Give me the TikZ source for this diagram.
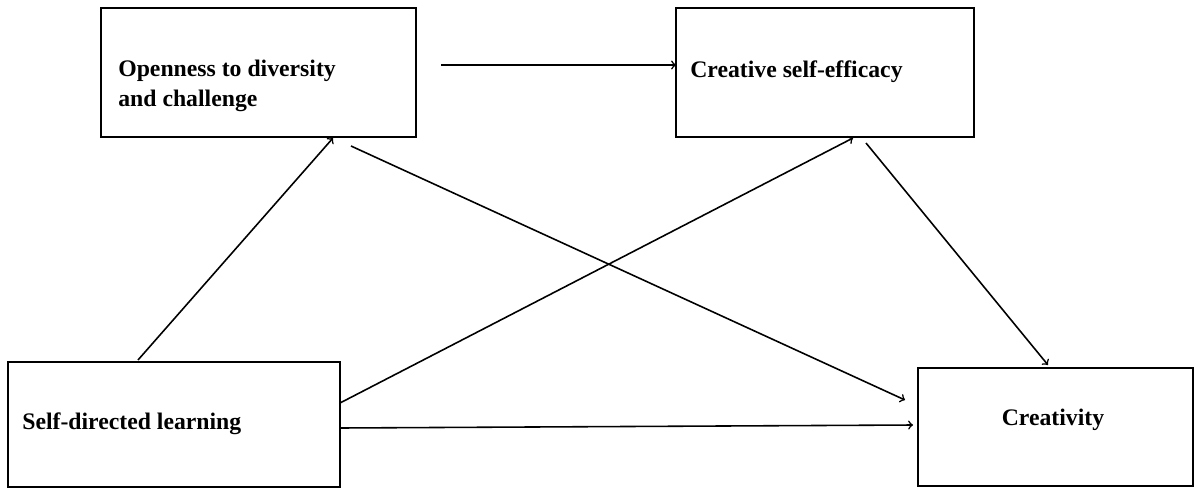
\documentclass[tikz,border=0pt]{standalone}
\usepackage{fontspec}
\setmainfont{Liberation Serif}
\begin{document}
\begin{tikzpicture}[x=0.02cm,y=-0.02cm]
	\tikzstyle{box}=[draw=black,line width=1.2pt]
	\tikzstyle{label}=[font=\fontsize{13.5}{17}\selectfont\bfseries,align=left,anchor=west,inner sep=0pt]
	\tikzstyle{link}=[->,line width=0.9pt,>=to]
	\useasboundingbox (0,0) rectangle (1200,494);
	\draw[box] (101,8) rectangle (416,137);
	\draw[box] (676,8) rectangle (974,137);
	\draw[box] (8,362) rectangle (340,487);
	\draw[box] (918,368) rectangle (1193,486);
	\node[label](open) at (118,86) {Openness to diversity\\and challenge};
	\node[label](eff) at (690,72) {Creative self-efficacy};
	\node[label](sdl) at (22,424) {Self-directed learning};
	\node[label,anchor=center](cre) at (1053,420) {Creativity};
	\coordinate (a1) at (441,65);
	\coordinate (a2) at (676,65);
	\coordinate (b1) at (138,360);
	\coordinate (b2) at (333,138);
	\coordinate (c1) at (351,146);
	\coordinate (c2) at (905,400);
	\coordinate (d1) at (340,403);
	\coordinate (d2) at (853,138);
	\coordinate (e1) at (866,143);
	\coordinate (e2) at (1048,365);
	\coordinate (f1) at (340,428);
	\coordinate (f2) at (913,425);
	\draw[link](a1) -- (a2);
	\draw[link](b1) -- (b2);
	\draw[link](c1) -- (c2);
	\draw[link](d1) -- (d2);
	\draw[link](e1) -- (e2);
	\draw[link](f1) -- (f2);
\end{tikzpicture}
\end{document}
